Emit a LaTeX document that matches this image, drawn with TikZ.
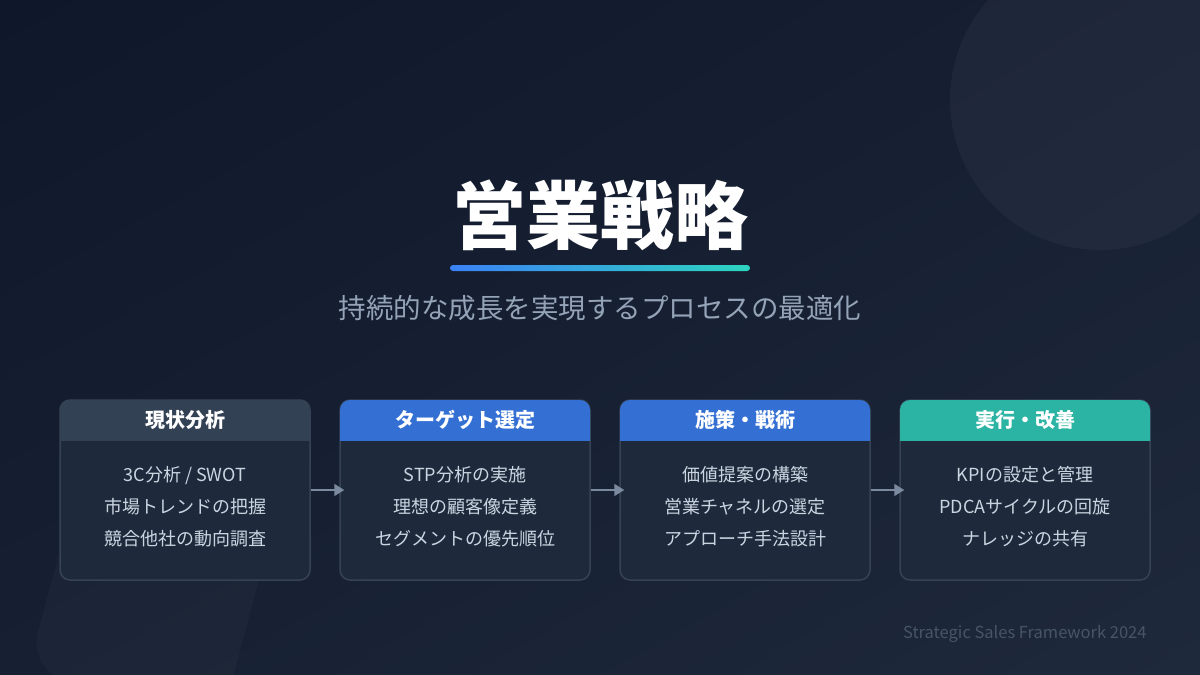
\documentclass[tikz,border=0pt]{standalone}
\usepackage{fontspec}
\setmainfont{Noto Sans CJK JP}
\usetikzlibrary{arrows.meta,shadings}

\definecolor{bgtl}{HTML}{0F172A}
\definecolor{bgbr}{HTML}{1E293B}
\definecolor{bgmid}{HTML}{172033}
\definecolor{boxfill}{HTML}{1E293B}
\definecolor{boxline}{HTML}{364356}
\definecolor{hdslate}{HTML}{334155}
\definecolor{hdblue}{HTML}{3470D4}
\definecolor{hdteal}{HTML}{2BB3A3}
\definecolor{itemtxt}{HTML}{CBD5E1}
\definecolor{subtxt}{HTML}{94A3B8}
\definecolor{foottxt}{HTML}{475569}
\definecolor{arrowc}{HTML}{7C8AA0}
\definecolor{lineA}{HTML}{3B82F6}
\definecolor{lineB}{HTML}{2DD4BF}

\begin{document}
\begin{tikzpicture}[x=1pt,y=-1pt,
    box/.style={draw=boxline, line width=1.5pt, fill=boxfill, rounded corners=10pt,
                minimum width=250pt, minimum height=180pt},
    head/.style={text=white, font=\fontsize{20}{24}\selectfont\bfseries},
    items/.style={text=itemtxt, align=center, font=\fontsize{18}{32}\selectfont},
    flow/.style={draw=arrowc, line width=1.5pt, -{Triangle[length=10pt,width=12pt]}, shorten >=-5pt}]
                    \useasboundingbox (0,0) rectangle (1200,675);
                    % background
                    \shade[upper left=bgtl, lower right=bgbr, upper right=bgmid, lower left=bgmid] (0,0) rectangle (1200,675);
                    \fill[white, opacity=0.035] (1100,100) circle (150);
                    \fill[white, opacity=0.025, rounded corners=40pt, rotate around={-15:(150,600)}] (50,440) rectangle (250,700);
                    % title
                    \node[text=white, font=\fontsize{74}{80}\selectfont\bfseries] (title) at (600,215) {営業戦略};
                    \shade[left color=lineA, right color=lineB, rounded corners=3pt] (450,265) rectangle (750,271);
                    \node[text=subtxt, font=\fontsize{27.5}{32}\selectfont] (subtitle) at (600,308) {持続的な成長を実現するプロセスの最適化};
                    % stage 1
                    \node[box] (anal) at (185,490) {};
                    \begin{scope}
                        \clip (60,400) rectangle (310,440);
                        \fill[hdslate, rounded corners=10pt] (60,400) rectangle (310,460);
                    \end{scope}
                    \node[head] (analh) at (185,420) {現状分析};
                    \node[items] (analt) at (185,507) {3C分析 / SWOT\\市場トレンドの把握\\競合他社の動向調査};
                    % stage 2
                    \node[box] (tgt) at (465,490) {};
                    \begin{scope}
                        \clip (340,400) rectangle (590,440);
                        \fill[hdblue, rounded corners=10pt] (340,400) rectangle (590,460);
                    \end{scope}
                    \node[head] (tgth) at (465,420) {ターゲット選定};
                    \node[items] (tgtt) at (465,507) {STP分析の実施\\理想の顧客像定義\\セグメントの優先順位};
                    % stage 3
                    \node[box] (plan) at (745,490) {};
                    \begin{scope}
                        \clip (620,400) rectangle (870,440);
                        \fill[hdblue, rounded corners=10pt] (620,400) rectangle (870,460);
                    \end{scope}
                    \node[head] (planh) at (745,420) {施策・戦術};
                    \node[items] (plant) at (745,507) {価値提案の構築\\営業チャネルの選定\\アプローチ手法設計};
                    % stage 4
                    \node[box] (exec) at (1025,490) {};
                    \begin{scope}
                        \clip (900,400) rectangle (1150,440);
                        \fill[hdteal, rounded corners=10pt] (900,400) rectangle (1150,460);
                    \end{scope}
                    \node[head] (exech) at (1025,420) {実行・改善};
                    \node[items] (exect) at (1025,507) {KPIの設定と管理\\PDCAサイクルの回旋\\ナレッジの共有};
                    % arrows
                    \draw[flow] (anal.east) -- (tgt.west);
                    \draw[flow] (tgt.east) -- (plan.west);
                    \draw[flow] (plan.east) -- (exec.west);
                    % footer
                    \node[anchor=east, text=foottxt, font=\fontsize{16.5}{18}\selectfont] (foot) at (1150,634) {Strategic Sales Framework 2024};
\end{tikzpicture}
\end{document}
